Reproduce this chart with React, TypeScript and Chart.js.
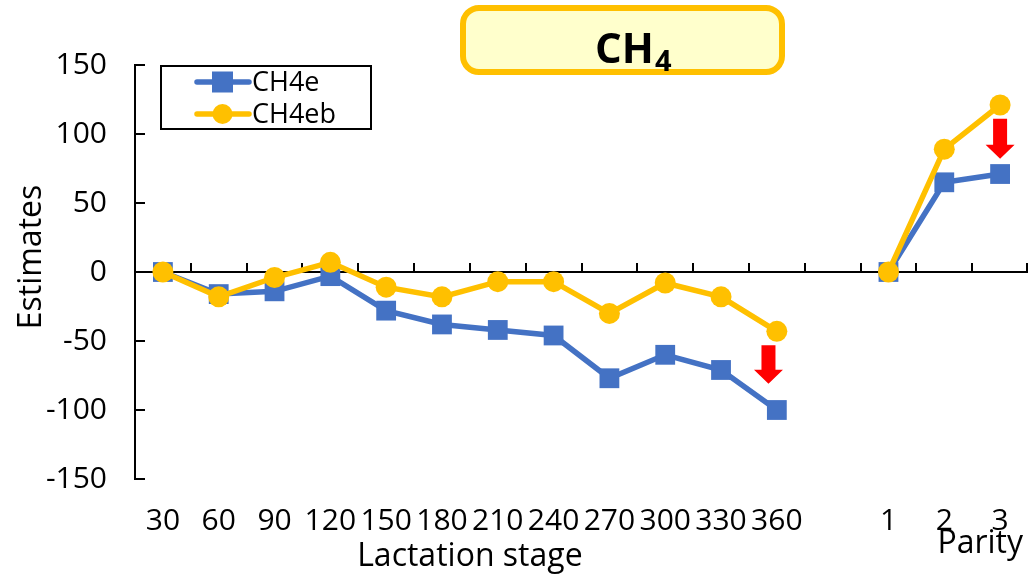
import React, { useEffect, useRef } from "react";
import { Chart, registerables } from "chart.js";

Chart.register(...registerables);

// Category axis: lactation stage (days) followed by a spacer and parity classes
const categories = ["30", "60", "90", "120", "150", "180", "210", "240", "270", "300", "330", "360", "", "1", "2", "3"];
const lactationLabels = categories.slice(0, 12);

// Estimates per category (null = spacer between the two groups)
const ch4e = [0, -16, -14, -3, -28, -38, -42, -46, -77, -60, -71, -100, null, 0, 65, 71];
const ch4eb = [0, -18, -4, 7, -11, -18, -7, -7, -30, -8, -18, -43, null, 0, 89, 121];

const yTicks = [-150, -100, -50, 0, 50, 100, 150];

// Down arrows: category position and value range
const arrows = [
  { at: 10.85, from: -53, to: -81 },
  { at: 15, from: 111, to: 82 },
];

const BLUE = "#4472C4";
const GOLD = "#FFC000";
const FONT = "'Open Sans', 'Noto Sans', sans-serif";

const decorPlugin = {
  id: "decor",
  beforeDatasetsDraw(chart: any) {
    const { ctx, chartArea, scales } = chart;
    const x = scales.x;
    const y = scales.y;
    const y0 = y.getPixelForValue(0);
    ctx.save();
    ctx.strokeStyle = "#000";
    ctx.lineWidth = 2;
    ctx.beginPath();
    ctx.moveTo(chartArea.left, y0);
    ctx.lineTo(chartArea.right, y0);
    for (let i = 1; i <= categories.length; i++) {
      const px = Math.min(Math.round(x.getPixelForValue(i - 0.5)), chartArea.right - 1);
      ctx.moveTo(px, y0);
      ctx.lineTo(px, y0 - 9);
    }
    yTicks.forEach((v) => {
      const py = Math.round(y.getPixelForValue(v));
      ctx.moveTo(chartArea.left, py);
      ctx.lineTo(chartArea.left + 10, py);
    });
    ctx.stroke();
    ctx.restore();
  },
  afterDatasetsDraw(chart: any) {
    const { ctx, scales } = chart;
    const x = scales.x;
    const y = scales.y;
    ctx.save();
    ctx.fillStyle = "#FF0000";
    arrows.forEach((a) => {
      const cx = x.getPixelForValue(a.at);
      const top = y.getPixelForValue(a.from);
      const bottom = y.getPixelForValue(a.to);
      const head = 14;
      const shaft = 7;
      const half = 14.5;
      ctx.beginPath();
      ctx.moveTo(cx - shaft, top);
      ctx.lineTo(cx + shaft, top);
      ctx.lineTo(cx + shaft, bottom - head);
      ctx.lineTo(cx + half, bottom - head);
      ctx.lineTo(cx, bottom);
      ctx.lineTo(cx - half, bottom - head);
      ctx.lineTo(cx - shaft, bottom - head);
      ctx.closePath();
      ctx.fill();
    });
    ctx.restore();
  },
  afterDraw(chart: any) {
    const { ctx, scales } = chart;
    const x = scales.x;
    ctx.save();

    // Title box
    ctx.beginPath();
    ctx.roundRect(463, 8, 319, 64, 16);
    ctx.fillStyle = "#FFFFCC";
    ctx.fill();
    ctx.lineWidth = 6;
    ctx.strokeStyle = GOLD;
    ctx.stroke();
    ctx.fillStyle = "#000";
    ctx.textAlign = "left";
    ctx.textBaseline = "alphabetic";
    ctx.font = `bold 42px ${FONT}`;
    ctx.fillText("CH", 595, 63);
    const w = ctx.measureText("CH").width;
    ctx.font = `bold 29px ${FONT}`;
    ctx.fillText("4", 595 + w + 1, 71);

    // Axis titles
    ctx.font = `32px ${FONT}`;
    ctx.textAlign = "center";
    const lx = (x.getPixelForValue(0) + x.getPixelForValue(lactationLabels.length - 1)) / 2;
    ctx.fillText("Lactation stage", lx, 566);
    ctx.textAlign = "right";
    ctx.fillText("Parity", chart.chartArea.right - 5, 553);
    ctx.save();
    ctx.translate(41, 257);
    ctx.rotate(-Math.PI / 2);
    ctx.textAlign = "center";
    ctx.fillText("Estimates", 0, 0);
    ctx.restore();

    // Legend
    ctx.lineWidth = 2;
    ctx.strokeStyle = "#000";
    ctx.strokeRect(161, 66, 210, 63);
    const rows = [
      { label: chart.data.datasets[0].label, color: BLUE, shape: "rect", cy: 82 },
      { label: chart.data.datasets[1].label, color: GOLD, shape: "circle", cy: 114 },
    ];
    rows.forEach((r) => {
      ctx.strokeStyle = r.color;
      ctx.fillStyle = r.color;
      ctx.lineWidth = 5.5;
      ctx.lineCap = "round";
      ctx.beginPath();
      ctx.moveTo(197, r.cy);
      ctx.lineTo(249, r.cy);
      ctx.stroke();
      if (r.shape === "rect") {
        ctx.fillRect(212, r.cy - 10.5, 21, 21);
      } else {
        ctx.beginPath();
        ctx.arc(222.5, r.cy, 10, 0, Math.PI * 2);
        ctx.fill();
      }
      ctx.fillStyle = "#000";
      ctx.font = `27px ${FONT}`;
      ctx.textAlign = "left";
      ctx.textBaseline = "middle";
      ctx.fillText(r.label, 252, r.cy + 1);
    });
    ctx.restore();
  },
};

export default function App() {
  const canvasRef = useRef<HTMLCanvasElement | null>(null);

  useEffect(() => {
    document.body.style.margin = "0";
    const canvas = canvasRef.current;
    if (!canvas) return;
    const chart = new Chart(canvas, {
      type: "line",
      data: {
        labels: categories,
        datasets: [
          {
            label: "CH4e",
            data: ch4e,
            borderColor: BLUE,
            backgroundColor: BLUE,
            borderWidth: 5.5,
            pointStyle: "rect",
            pointRadius: 14,
            pointBorderWidth: 0,
            spanGaps: false,
            order: 2,
          },
          {
            label: "CH4eb",
            data: ch4eb,
            borderColor: GOLD,
            backgroundColor: GOLD,
            borderWidth: 5.5,
            pointStyle: "circle",
            pointRadius: 10.5,
            pointBorderWidth: 0,
            spanGaps: false,
            order: 1,
          },
        ],
      },
      options: {
        responsive: false,
        animation: false,
        layout: { autoPadding: false, padding: { left: 0, right: 2, top: 65, bottom: 0 } },
        plugins: {
          legend: { display: false },
          title: { display: false },
          tooltip: { enabled: false },
        },
        scales: {
          x: {
            type: "category",
            offset: true,
            grid: { display: false, drawTicks: false },
            border: { display: false },
            ticks: {
              color: "#000",
              padding: 24,
              maxRotation: 0,
              autoSkip: false,
              font: { family: FONT, size: 30 },
            },
            afterFit: (s: any) => {
              s.height = 97;
              s.paddingLeft = 0;
              s.paddingRight = 0;
            },
          },
          y: {
            min: -150,
            max: 150,
            grid: { display: false, drawTicks: false },
            border: { display: true, color: "#000", width: 2 },
            ticks: {
              stepSize: 50,
              color: "#000",
              padding: 28,
              font: { family: FONT, size: 30 },
            },
            afterFit: (s: any) => {
              s.width = 135;
              s.paddingTop = 0;
              s.paddingBottom = 0;
            },
          },
        },
      },
      plugins: [decorPlugin],
    });
    return () => chart.destroy();
  }, []);

  return (
    <div style={{ position: "absolute", left: 0, top: 0, width: 1030, height: 576, background: "#fff" }}>
      <canvas ref={canvasRef} width={1030} height={576} />
    </div>
  );
}
